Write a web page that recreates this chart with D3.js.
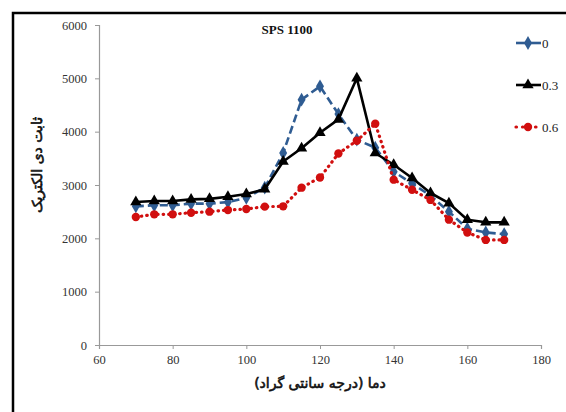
<!DOCTYPE html>
<html><head><meta charset="utf-8">
<script src="https://cdn.jsdelivr.net/npm/d3@7"></script>
<style>html,body{margin:0;padding:0;background:#fff;}svg{display:block;}</style>
</head><body>
<svg id="c" width="566" height="412"></svg>
<script>
const temps = [70,75,80,85,90,95,100,105,110,115,120,125,130,135,140,145,150,155,160,165,170];
const series0  = [2600,2620,2620,2650,2650,2680,2760,2950,3600,4600,4850,4330,3850,3700,3250,3030,2800,2500,2180,2110,2080];
const series03 = [2680,2700,2700,2730,2740,2780,2830,2920,3440,3690,3980,4230,5000,3600,3380,3130,2850,2660,2350,2300,2300];
const series06 = [2400,2450,2450,2480,2500,2530,2550,2594,2600,2950,3140,3590,3830,4150,3100,2910,2720,2350,2110,1970,1970];
const seriesNames = ["0","0.3","0.6"];
const xTicks = [60,80,100,120,140,160,180];
const yTicks = [0,1000,2000,3000,4000,5000,6000];
const title = "SPS 1100";
const xTitle = "دما (درجه سانتی گراد)";
const yTitle = "ثابت دی الکتریک";

const svg = d3.select("#c");
svg.append("path").attr("d","M13,414 L13,13 L570,13").attr("fill","none").attr("stroke","#000").attr("stroke-width",2.5);

const x = d3.scaleLinear().domain([60,180]).range([99,541]);
const y = d3.scaleLinear().domain([0,6000]).range([345,25]);

const serif = "'Liberation Serif','Times New Roman',serif";
const gx = svg.append("g").attr("transform","translate(0,345)")
  .call(d3.axisBottom(x).tickValues(xTicks).tickFormat(d3.format("d")).tickSize(4).tickPadding(6));
const gy = svg.append("g").attr("transform","translate(99,0)")
  .call(d3.axisLeft(y).tickValues(yTicks).tickFormat(d3.format("d")).tickSize(4).tickPadding(8));
[gx,gy].forEach(g=>{
  g.attr("font-family",serif).attr("font-size",12.5);
  g.select(".domain").attr("stroke","#999").attr("stroke-width",1.2);
  g.selectAll(".tick line").attr("stroke","#999");
  g.selectAll(".tick text").attr("fill","#333").style("font-family",serif);
});

const data = [
  {name:seriesNames[0], vals:series0, color:"#2f5c92", dash:"8,4", cap:"butt", width:2.6, marker:"diamond"},
  {name:seriesNames[1], vals:series03, color:"#000", dash:null, cap:"butt", width:2.6, marker:"triangle"},
  {name:seriesNames[2], vals:series06, color:"#d10f0f", dash:"0.5,5", cap:"round", width:3.2, marker:"circle"}
];
const line = d3.line().x((d,i)=>x(temps[i])).y(d=>y(d));
const sym = {diamond:d3.symbol().type(d3.symbolDiamond).size(55),
             triangle:d3.symbol().type(d3.symbolTriangle).size(55),
             circle:d3.symbol().type(d3.symbolCircle).size(55)};

data.forEach(s=>{
  const p = svg.append("path").datum(s.vals).attr("d",line).attr("fill","none")
    .attr("stroke",s.color).attr("stroke-width",s.width).attr("stroke-linecap",s.cap).attr("stroke-linejoin","round");
  if(s.dash) p.attr("stroke-dasharray",s.dash);
  svg.append("g").selectAll("path").data(s.vals).join("path")
    .attr("d",sym[s.marker]).attr("fill",s.color)
    .attr("transform",(d,i)=>`translate(${x(temps[i])},${y(d)})`);
});

const legY = [43,85,127];
data.forEach((s,i)=>{
  const g = svg.append("g").attr("transform",`translate(0,${legY[i]})`);
  const l = g.append("line").attr("x1",516).attr("x2",541).attr("y1",0).attr("y2",0)
    .attr("stroke",s.color).attr("stroke-width",s.width).attr("stroke-linecap",s.cap);
  if(s.marker==="circle") l.attr("stroke-dasharray","0.5,6");
  g.append("path").attr("d",sym[s.marker]).attr("fill",s.color).attr("transform","translate(528,0)");
  g.append("text").attr("x",542).attr("y",4.5).style("font-family",serif).attr("font-size",13)
    .attr("fill","#222").text(s.name);
});

svg.append("text").attr("x",287).attr("y",34).attr("text-anchor","middle")
  .style("font-family",serif).attr("font-weight","bold").attr("font-size",13).attr("fill","#111").text(title);
svg.append("text").attr("x",320).attr("y",388).attr("text-anchor","middle")
  .attr("font-family","'DejaVu Sans',sans-serif").attr("font-size",14)
  .attr("fill","#111").attr("stroke","#111").attr("stroke-width",0.6).text(xTitle);
svg.append("text").attr("transform","translate(42,165) rotate(-90)").attr("text-anchor","middle")
  .attr("font-family","'DejaVu Sans',sans-serif").attr("font-size",14)
  .attr("fill","#111").attr("stroke","#111").attr("stroke-width",0.6).text(yTitle);
</script>
</body></html>
